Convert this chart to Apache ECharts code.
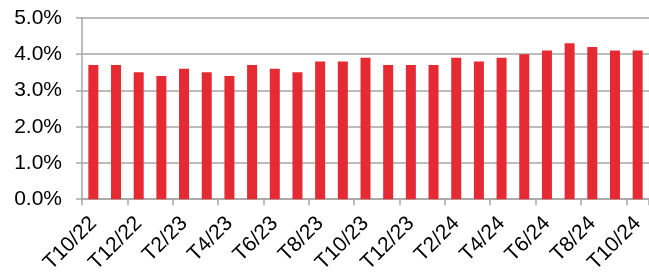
<!DOCTYPE html>
<html>
<head>
<meta charset="utf-8">
<script src="https://cdn.jsdelivr.net/npm/echarts@6/dist/echarts.min.js"></script>
<style>
  html, body { margin: 0; padding: 0; background: #fff; }
  #chart { width: 649px; height: 276px; }
</style>
</head>
<body>
<div id="chart"></div>
<script>
// thang T10/22 .. T10/24
var months = ['T10/22', 'T11/22', 'T12/22', 'T1/23', 'T2/23', 'T3/23', 'T4/23', 'T5/23', 'T6/23',
  'T7/23', 'T8/23', 'T9/23', 'T10/23', 'T11/23', 'T12/23', 'T1/24', 'T2/24', 'T3/24', 'T4/24',
  'T5/24', 'T6/24', 'T7/24', 'T8/24', 'T9/24', 'T10/24'];
var rates = [3.7, 3.7, 3.5, 3.4, 3.6, 3.5, 3.4, 3.7, 3.6, 3.5, 3.8, 3.8, 3.9, 3.7, 3.7, 3.7,
  3.9, 3.8, 3.9, 4.0, 4.1, 4.3, 4.2, 4.1, 4.1];
var yMin = 0, yMax = 5, yStep = 1;

var chart = echarts.init(document.getElementById('chart'));
chart.setOption({
  animation: false,
  grid: { left: 82, top: 18, width: 573, height: 183 },
  xAxis: {
    type: 'category',
    data: months,
    axisLine: { show: true, lineStyle: { color: '#a6a6a6', width: 1.5 } },
    axisTick: { show: true, interval: 1, length: 6, lineStyle: { color: '#a6a6a6', width: 1.5 } },
    axisLabel: {
      interval: 1, rotate: 45, margin: 21,
      fontFamily: 'Liberation Sans', fontSize: 21, color: '#000'
    }
  },
  yAxis: {
    type: 'value',
    min: yMin, max: yMax, interval: yStep,
    axisLine: { show: true, lineStyle: { color: '#a6a6a6', width: 1.5 } },
    axisTick: { show: true, length: 6, lineStyle: { color: '#a6a6a6', width: 1.5 } },
    splitLine: { lineStyle: { color: '#a6a6a6', width: 1.5 } },
    axisLabel: {
      margin: 20,
      fontFamily: 'Liberation Sans', fontSize: 21, color: '#000',
      formatter: function (v) { return v.toFixed(1) + '%'; }
    }
  },
  series: [{
    type: 'bar',
    data: rates,
    barWidth: 10,
    itemStyle: { color: '#e52a33' }
  }]
});
</script>
</body>
</html>
